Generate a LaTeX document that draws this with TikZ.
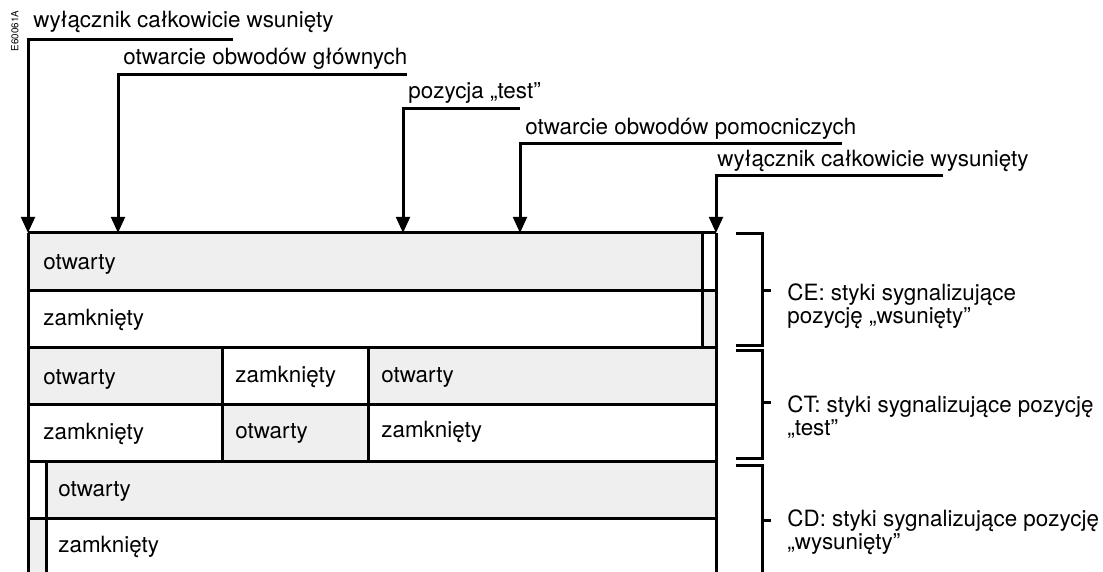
\documentclass[tikz,border=0pt]{standalone}
\usepackage{fontspec}
\setmainfont{TeX Gyre Heros}
\usetikzlibrary{arrows.meta}
\definecolor{szary}{RGB}{239,239,239}

\begin{document}
\begin{tikzpicture}[x=0.5pt,y=-0.5pt,
		font=\fontsize{11.2}{10.4}\selectfont,
		linia/.style={line width=1.5pt},
		strzalka/.style={line width=1.5pt,-{Triangle[width=6.8pt,length=8pt]}},
		opis/.style={anchor=base west,inner sep=0pt},
		klamra/.style={line width=1.5pt},
		uwaga/.style={anchor=north west,inner sep=0pt,align=left}]
	\useasboundingbox (0,0) rectangle (1103,572);

	% wypelnienia pol
	\fill[szary] (28,233) rectangle (702,290.5);
	\fill[szary] (702,290.5) rectangle (716,347);
	\fill[szary] (28,347) rectangle (222,404);
	\fill[szary] (368,347) rectangle (716,404);
	\fill[szary] (222,404) rectangle (368,461);
	\fill[szary] (46,461) rectangle (716,518.5);
	\fill[szary] (28,518.5) rectangle (46,572);

	% siatka
	\foreach \y in {233,290.5,347,404,461,518.5}
		\draw[linia] (28,\y) -- (716,\y);
	\draw[linia] (28,233) -- (28,572);
	\draw[linia] (716,233) -- (716,572);
	\draw[linia] (702,233) -- (702,347);
	\draw[linia] (222,347) -- (222,461);
	\draw[linia] (368,347) -- (368,461);
	\draw[linia] (46,461) -- (46,572);

	% napisy w polach
	\node[opis](ce1) at (43,269.5){otwarty};
	\node[opis](ce2) at (43,325.5){zamknięty};
	\node[opis](ct1) at (43,384){otwarty};
	\node[opis](ct2) at (235,382){zamknięty};
	\node[opis](ct3) at (381,382){otwarty};
	\node[opis](ct4) at (43,439){zamknięty};
	\node[opis](ct5) at (235,438){otwarty};
	\node[opis](ct6) at (381,437.5){zamknięty};
	\node[opis](cd1) at (58,496){otwarty};
	\node[opis](cd2) at (58,552){zamknięty};

	% pozycje wylacznika
	\node[opis](p1) at (33,27.3){wyłącznik całkowicie wsunięty};
	\node[opis](p2) at (123,65){otwarcie obwodów głównych};
	\node[opis](p3) at (408,98.3){pozycja „test”};
	\node[opis](p4) at (525,135){otwarcie obwodów pomocniczych};
	\node[opis](p5) at (717,166.7){wyłącznik całkowicie wysunięty};

	\coordinate (k1) at (28,40);   \coordinate (e1) at (233,40);  \coordinate (t1) at (28,233);
	\coordinate (k2) at (118,75);  \coordinate (e2) at (407,75);  \coordinate (t2) at (118,233);
	\coordinate (k3) at (403,109); \coordinate (e3) at (520,109); \coordinate (t3) at (403,233);
	\coordinate (k4) at (520,144); \coordinate (e4) at (842,144); \coordinate (t4) at (520,233);
	\coordinate (k5) at (716,176); \coordinate (e5) at (943,176); \coordinate (t5) at (716,233);

	\foreach \i in {1,...,5}
		\draw[strzalka] (e\i) -- (k\i) -- (t\i);

	% klamry
	\draw[klamra] (736,234) -- (762,234) -- (762,345) -- (736,345);
	\draw[klamra] (762,291) -- (771,291);
	\draw[klamra] (736,350) -- (762,350) -- (762,458) -- (736,458);
	\draw[klamra] (762,402) -- (771,402);
	\draw[klamra] (736,465) -- (762,465) -- (762,572);
	\draw[klamra] (762,520) -- (771,520);

	\node[uwaga](ce) at (787,283){CE: styki sygnalizujące\\pozycję „wsunięty”};
	\node[uwaga](ct) at (787,395.5){CT: styki sygnalizujące pozycję\\„test”};
	\node[uwaga](cd) at (787,509){CD: styki sygnalizujące pozycję\\„wysunięty”};

	\node[font=\fontsize{4.9}{5}\selectfont,rotate=90,inner sep=0pt](nr) at (15,31){E60061A};
\end{tikzpicture}
\end{document}
